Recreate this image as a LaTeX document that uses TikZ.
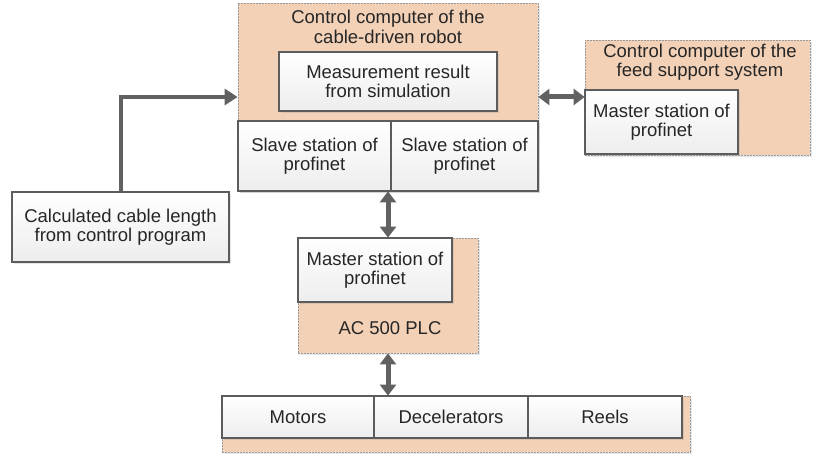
\documentclass[tikz,border=0pt]{standalone}
\usepackage{fontspec}
\setmainfont{Liberation Sans}
\usetikzlibrary{arrows.meta,shadows}
\definecolor{peach}{HTML}{F2D1B7}
\definecolor{edge}{HTML}{5C5C5C}
\definecolor{arrowgray}{HTML}{616161}
\tikzset{
  txt/.style={font=\fontsize{18.5}{19.5}\selectfont, align=center, text=black!85},
  group/.style={draw=gray!80, dashed, dash pattern=on 2pt off 1pt, line width=0.8pt,
    fill=peach, inner sep=0pt,
    drop shadow={opacity=0.18, shadow xshift=2pt, shadow yshift=-2pt}},
  unit/.style={txt, draw=edge, line width=1.3pt, inner sep=0pt,
    top color=white, bottom color=black!7,
    drop shadow={opacity=0.2, shadow xshift=2pt, shadow yshift=-2pt}},
  flow/.style={draw=arrowgray, line width=4pt, -{Triangle[length=13pt,width=16pt]}},
  link/.style={draw=arrowgray, line width=5pt,
    {Triangle[length=11pt,width=16pt]}-{Triangle[length=11pt,width=16pt]}},
}
\begin{document}
\begin{tikzpicture}[x=1pt,y=-1pt]
\useasboundingbox (0,0) rectangle (813,454);

% cable-driven robot controller
\node[group, minimum width=300, minimum height=188] (robot) at (388,97) {};
\node[txt] (robottitle) at (388,27) {Control computer of the\\cable-driven robot};
\node[unit, minimum width=218, minimum height=59] (meas) at (388,81.5) {Measurement result\\from simulation};
\node[unit, minimum width=153, minimum height=70] (slaveA) at (314.5,156) {Slave station of\\profinet};
\node[unit, minimum width=147, minimum height=70] (slaveB) at (464.5,156) {Slave station of\\profinet};

% feed support system controller
\node[group, minimum width=225, minimum height=115] (feed) at (697.5,97.5) {};
\node[txt] (feedtitle) at (700,62) {Control computer of the\\feed support system};
\node[unit, minimum width=153, minimum height=64] (feedmaster) at (661.5,122) {Master station of\\profinet};

% control program input
\node[unit, minimum width=217, minimum height=70] (calc) at (120.5,227) {Calculated cable length\\from control program};

% PLC
\node[group, minimum width=180, minimum height=115] (plc) at (388,295.5) {};
\node[unit, minimum width=154, minimum height=64] (plcmaster) at (375,270) {Master station of\\profinet};
\node[txt] (plclabel) at (390,328) {AC 500 PLC};

% drive hardware
\node[group, minimum width=468, minimum height=56] (hw) at (456,424) {};
\node[unit, minimum width=152, minimum height=42] (motors) at (298,417) {Motors};
\node[unit, minimum width=154, minimum height=42] (decel) at (451,417) {Decelerators};
\node[unit, minimum width=154, minimum height=42] (reels) at (605,417) {Reels};

% connections
\draw[flow] (calc.north) |- (robot.west);
\draw[link] (robot.east) -- (robot.east -| feed.west);
\draw[link] (robot.south) -- (plc.north);
\draw[link] (plc.south) -- (plc.south |- hw.north);
\end{tikzpicture}
\end{document}
